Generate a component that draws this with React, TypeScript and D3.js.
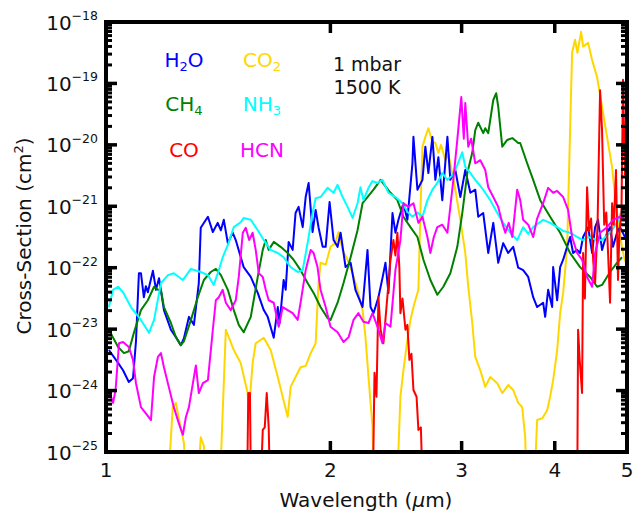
import React from "react";
import * as d3 from "d3";

// [wavelength (um), log10 cross-section (cm^2)]
const h2o: [number, number][] = [
  [1.009, -23.34], [1.038, -23.55], [1.054, -23.67], [1.073, -23.86], [1.087, -23.8], [1.097, -23.2],
  [1.107, -22.09], [1.114, -22.09], [1.124, -22.48], [1.131, -22.3], [1.138, -22.4], [1.156, -22.05],
  [1.167, -22.36], [1.178, -22.17], [1.196, -22.69], [1.222, -23.01], [1.241, -23.13], [1.26, -23.26],
  [1.272, -23.15], [1.292, -22.8], [1.312, -22.93], [1.332, -22.25], [1.34, -21.35], [1.37, -21.17],
  [1.391, -21.42], [1.412, -21.27], [1.426, -21.39], [1.439, -21.22], [1.457, -21.6], [1.479, -21.43],
  [1.493, -21.55], [1.53, -21.99], [1.564, -22.15], [1.598, -22.41], [1.628, -22.69], [1.648, -22.8],
  [1.679, -23.14], [1.7, -22.64], [1.71, -22.9], [1.731, -22.2], [1.742, -22.36], [1.758, -21.58],
  [1.78, -21.71], [1.796, -21.11], [1.813, -21.01], [1.836, -21.34], [1.853, -20.85], [1.87, -20.62],
  [1.893, -21.42], [1.911, -21.06], [1.928, -21.34], [1.953, -21.66], [1.971, -21.66], [1.995, -20.93],
  [2.02, -21.55], [2.045, -21.66], [2.064, -21.43], [2.096, -21.99], [2.129, -21.92], [2.161, -22.36],
  [2.181, -22.48], [2.209, -22.64], [2.243, -21.71], [2.264, -22.64], [2.285, -22.74], [2.32, -22.48],
  [2.349, -22.17], [2.371, -21.92], [2.393, -22.41], [2.423, -21.11], [2.445, -21.43], [2.468, -21.22],
  [2.506, -20.95], [2.537, -21.22], [2.577, -20.3], [2.585, -19.87], [2.617, -20.73], [2.658, -20.57],
  [2.682, -20.03], [2.707, -20.46], [2.741, -19.87], [2.766, -20.57], [2.792, -20.2], [2.826, -20.9],
  [2.871, -19.87], [2.897, -20.57], [2.942, -20.41], [2.988, -20.85], [3.034, -20.41], [3.082, -20.78],
  [3.129, -20.73], [3.158, -21.17], [3.207, -21.11], [3.257, -21.76], [3.308, -21.27], [3.359, -21.92],
  [3.411, -21.6], [3.464, -21.76], [3.518, -21.66], [3.573, -22.0], [3.628, -22.04], [3.685, -22.15],
  [3.742, -22.48], [3.788, -22.64], [3.859, -22.57], [3.883, -22.8], [3.919, -22.36], [3.968, -22.64],
  [3.98, -21.99], [4.03, -22.53], [4.067, -21.99], [4.105, -21.87], [4.156, -21.66], [4.194, -21.5],
  [4.233, -21.76], [4.286, -21.71], [4.325, -21.76], [4.366, -21.5], [4.434, -21.34], [4.489, -21.76],
  [4.531, -21.34], [4.572, -21.22], [4.629, -21.71], [4.701, -21.43], [4.745, -21.34], [4.789, -21.66],
  [4.848, -21.43], [4.893, -21.34], [4.969, -21.5],
];

const nh3: [number, number][] = [
  [1.009, -22.64], [1.022, -22.36], [1.038, -22.31], [1.054, -22.4], [1.08, -22.64], [1.114, -22.85],
  [1.142, -23.06], [1.16, -22.85], [1.185, -22.25], [1.211, -22.12], [1.233, -22.09], [1.268, -22.2],
  [1.3, -22.02], [1.34, -22.07], [1.37, -22.12], [1.395, -22.28], [1.417, -22.04], [1.434, -21.83],
  [1.457, -21.63], [1.484, -21.34], [1.516, -21.26], [1.53, -21.19], [1.564, -21.22], [1.598, -21.39],
  [1.628, -21.55], [1.663, -21.71], [1.7, -21.76], [1.731, -21.83], [1.769, -21.99], [1.808, -22.07],
  [1.836, -22.04], [1.864, -21.6], [1.893, -21.11], [1.911, -20.87], [1.94, -20.85], [1.983, -20.7],
  [2.02, -20.78], [2.045, -20.65], [2.077, -20.85], [2.109, -21.01], [2.142, -21.19], [2.175, -20.95],
  [2.195, -20.69], [2.215, -20.9], [2.25, -20.7], [2.278, -20.59], [2.313, -20.62], [2.349, -20.57],
  [2.393, -20.78], [2.445, -20.85], [2.499, -20.95], [2.537, -21.09], [2.577, -21.17], [2.617, -21.1],
  [2.658, -21.17], [2.699, -20.9], [2.741, -20.73], [2.783, -20.62], [2.826, -20.46], [2.871, -20.57],
  [2.915, -20.5], [2.96, -20.33], [3.006, -20.12], [3.034, -20.36], [3.082, -20.46], [3.129, -20.57],
  [3.207, -20.73], [3.277, -20.9], [3.349, -21.11], [3.411, -21.27], [3.486, -21.43], [3.562, -21.55],
  [3.628, -21.34], [3.685, -21.45], [3.742, -21.34], [3.859, -21.22], [3.943, -21.27], [4.03, -21.34],
  [4.105, -21.4], [4.194, -21.43], [4.286, -21.5], [4.366, -21.55], [4.434, -21.5], [4.559, -21.55],
  [4.629, -21.55], [4.745, -21.43], [4.848, -21.27], [4.923, -21.06], [4.969, -21.1],
];

const ch4: [number, number][] = [
  [1.009, -23.01], [1.038, -23.29], [1.057, -23.39], [1.073, -23.36], [1.09, -23.06], [1.114, -22.69],
  [1.138, -22.53], [1.16, -22.31], [1.174, -22.36], [1.185, -22.36], [1.196, -22.64], [1.222, -22.9],
  [1.241, -23.13], [1.26, -23.26], [1.272, -23.2], [1.3, -22.85], [1.328, -22.48], [1.353, -22.2],
  [1.382, -22.07], [1.404, -22.02], [1.426, -22.12], [1.457, -22.36], [1.484, -22.69], [1.507, -22.93],
  [1.53, -23.05], [1.564, -22.8], [1.598, -22.15], [1.623, -21.71], [1.638, -21.55], [1.653, -21.71],
  [1.679, -21.58], [1.715, -21.66], [1.753, -21.76], [1.785, -21.87], [1.824, -22.04], [1.864, -22.25],
  [1.899, -22.41], [1.94, -22.64], [1.983, -22.82], [2.001, -22.85], [2.045, -22.57], [2.083, -22.25],
  [2.129, -21.83], [2.175, -21.39], [2.209, -20.95], [2.243, -20.85], [2.285, -20.73], [2.32, -20.62],
  [2.335, -20.57], [2.408, -20.78], [2.46, -20.9], [2.506, -21.17], [2.561, -21.34], [2.617, -21.5],
  [2.666, -21.87], [2.724, -22.2], [2.783, -22.44], [2.835, -22.31], [2.897, -22.09], [2.96, -21.66],
  [3.006, -21.11], [3.053, -20.46], [3.1, -20.13], [3.129, -19.76], [3.158, -19.64], [3.207, -19.81],
  [3.227, -19.73], [3.257, -19.81], [3.308, -19.27], [3.338, -19.16], [3.359, -19.38], [3.401, -20.03],
  [3.454, -19.92], [3.508, -19.89], [3.573, -19.97], [3.595, -19.97], [3.673, -20.3], [3.742, -20.57],
  [3.824, -20.9], [3.943, -21.17], [4.067, -21.43], [4.156, -21.66], [4.194, -21.76], [4.325, -21.99],
  [4.461, -22.15], [4.559, -22.31], [4.629, -22.28], [4.745, -22.07], [4.848, -21.92], [4.923, -21.83],
];

const hcn: [number, number][] = [
  [1.009, -23.99], [1.022, -24.2], [1.03, -23.99], [1.041, -23.23], [1.054, -23.21], [1.073, -23.29],
  [1.087, -23.5], [1.097, -23.88], [1.114, -24.27], [1.131, -24.37], [1.149, -24.48], [1.16, -23.78],
  [1.174, -23.45], [1.185, -23.39], [1.196, -23.62], [1.214, -23.94], [1.233, -24.27], [1.252, -24.53],
  [1.268, -24.72], [1.28, -24.43], [1.292, -24.27], [1.308, -23.88], [1.32, -23.59], [1.332, -24.04],
  [1.349, -23.88], [1.37, -23.83], [1.391, -23.01], [1.404, -22.53], [1.417, -22.48], [1.434, -22.36],
  [1.448, -22.57], [1.47, -22.69], [1.493, -22.53], [1.507, -22.15], [1.526, -21.43], [1.54, -21.35],
  [1.556, -21.55], [1.573, -21.43], [1.588, -21.71], [1.603, -22.09], [1.623, -22.15], [1.638, -22.36],
  [1.653, -22.53], [1.679, -22.57], [1.705, -22.96], [1.726, -22.64], [1.753, -22.69], [1.78, -22.74],
  [1.808, -22.85], [1.824, -22.57], [1.853, -22.04], [1.882, -21.71], [1.899, -21.76], [1.922, -21.99],
  [1.94, -22.36], [1.971, -22.64], [2.001, -22.96], [2.045, -23.05], [2.083, -23.21], [2.116, -23.13],
  [2.148, -22.85], [2.181, -22.74], [2.215, -22.88], [2.25, -22.9], [2.278, -22.74], [2.313, -22.96],
  [2.349, -23.23], [2.371, -22.9], [2.408, -22.96], [2.445, -22.04], [2.483, -21.55], [2.506, -20.95],
  [2.545, -21.01], [2.585, -20.95], [2.625, -21.27], [2.658, -21.17], [2.699, -21.5], [2.724, -21.76],
  [2.753, -21.5], [2.783, -21.34], [2.826, -21.3], [2.871, -21.43], [2.897, -21.01], [2.924, -20.57],
  [2.96, -19.92], [2.997, -19.22], [3.02, -19.9], [3.034, -19.32], [3.062, -20.03], [3.09, -19.9],
  [3.129, -20.3], [3.178, -20.25], [3.227, -20.41], [3.257, -20.69], [3.308, -20.85], [3.359, -21.01],
  [3.401, -21.27], [3.433, -21.43], [3.47, -21.27], [3.508, -21.5], [3.562, -20.73], [3.595, -20.9],
  [3.628, -21.22], [3.685, -21.3], [3.742, -21.5], [3.788, -21.2], [3.859, -20.95], [3.919, -20.7],
  [3.98, -20.78], [4.03, -20.75], [4.105, -20.85], [4.168, -21.06], [4.22, -21.5], [4.286, -21.76],
  [4.352, -21.87], [4.42, -22.15], [4.489, -22.31], [4.531, -21.76], [4.601, -21.43], [4.701, -21.34],
  [4.789, -21.22], [4.893, -21.17], [4.969, -21.2],
];

const co2: [number, number][] = [
  [1.205, -26], [1.229, -24.27], [1.241, -24.2], [1.252, -24.45], [1.272, -24.85], [1.288, -26],
  [1.32, -26], [1.34, -24.76], [1.353, -24.9], [1.37, -26], [1.417, -26], [1.448, -23.01],
  [1.484, -23.34], [1.516, -23.55], [1.549, -24.04], [1.554, -24.37], [1.573, -23.55], [1.588, -23.23],
  [1.628, -23.14], [1.663, -23.34], [1.7, -23.78], [1.726, -24.1], [1.753, -24.43], [1.769, -23.94],
  [1.796, -23.78], [1.824, -23.62], [1.853, -23.6], [1.882, -23.39], [1.911, -23.23], [1.928, -22.25],
  [1.94, -21.92], [1.971, -21.95], [2.001, -21.66], [2.03, -21.6], [2.051, -21.42], [2.077, -21.71],
  [2.109, -21.87], [2.142, -22.09], [2.175, -22.36], [2.209, -22.69], [2.229, -23.13], [2.25, -23.78],
  [2.278, -24.59], [2.29, -26], [2.45, -26], [2.483, -24.1], [2.506, -23.67], [2.537, -23.18],
  [2.561, -22.85], [2.59, -22.6], [2.625, -22.36], [2.641, -21.11], [2.658, -20.03], [2.682, -19.87],
  [2.707, -19.73], [2.741, -19.95], [2.766, -19.97], [2.792, -20.13], [2.815, -20.0], [2.853, -20.25],
  [2.88, -20.15], [2.915, -20.46], [2.942, -20.73], [2.988, -21.22], [3.034, -21.76], [3.062, -22.31],
  [3.1, -22.9], [3.129, -23.45], [3.178, -23.67], [3.227, -23.94], [3.277, -23.78], [3.349, -23.88],
  [3.401, -24.04], [3.464, -23.91], [3.518, -23.99], [3.573, -24.2], [3.617, -24.27], [3.651, -24.76],
  [3.673, -26], [3.742, -26], [3.788, -24.48], [3.85, -24.45], [3.907, -24.32], [3.943, -24.1],
  [3.98, -23.83], [4.03, -23.34], [4.067, -22.74], [4.105, -22.41], [4.156, -21.66], [4.181, -20.41],
  [4.22, -18.5], [4.259, -18.29], [4.29, -18.5], [4.339, -18.16], [4.366, -18.4], [4.434, -18.34],
  [4.489, -18.62], [4.559, -18.9], [4.629, -19.38], [4.701, -19.87], [4.775, -20.36], [4.819, -20.85],
  [4.863, -21.22], [4.923, -21.66], [4.969, -21.9],
];

const co: [number, number][] = [
  [1.545, -26], [1.552, -24.04], [1.556, -24.3], [1.56, -24.04], [1.566, -26],
  [1.608, -26], [1.623, -24.64], [1.633, -24.6], [1.643, -24.04], [1.653, -24.6], [1.663, -26],
  [2.278, -26], [2.292, -23.71], [2.306, -24.1], [2.32, -22.48], [2.335, -23.0], [2.356, -23.23],
  [2.38, -22.6], [2.408, -21.87], [2.43, -21.55], [2.445, -21.8], [2.46, -21.43], [2.475, -22.0],
  [2.483, -22.74], [2.499, -22.5], [2.522, -23.01], [2.537, -22.93], [2.553, -23.5], [2.569, -23.4],
  [2.585, -23.99], [2.61, -24.1], [2.625, -24.64], [2.645, -24.6], [2.666, -26],
  [4.286, -26], [4.299, -23.01], [4.32, -23.5], [4.352, -24.04], [4.366, -21.76], [4.39, -22.5],
  [4.42, -20.69], [4.447, -21.4], [4.475, -21.2], [4.505, -21.9], [4.531, -22.25], [4.565, -21.3],
  [4.601, -19.11], [4.629, -19.76], [4.66, -21.3], [4.69, -21.1], [4.716, -21.76], [4.745, -22.57],
  [4.775, -20.95], [4.8, -21.3], [4.833, -20.41], [4.863, -22.2], [4.885, -21.4], [4.915, -21.1],
  [4.939, -18.94], [4.969, -20.5],
];

const xTicks = [1, 2, 3, 4, 5];
const yExponents = [-25, -24, -23, -22, -21, -20, -19, -18];

const series = [
  { name: "CO2", data: co2, color: "#ffd700" },
  { name: "H2O", data: h2o, color: "#0000ff" },
  { name: "CH4", data: ch4, color: "#008000" },
  { name: "NH3", data: nh3, color: "#00ffff" },
  { name: "CO", data: co, color: "#ff0000" },
  { name: "HCN", data: hcn, color: "#ff00ff" },
];

const W = 643;
const H = 513;
const left = 106, right = 627, top = 22, bottom = 452;
const font = "'DejaVu Sans', sans-serif";

export default function App() {
  const x = d3.scaleLog().domain([1, 5]).range([left, right]);
  const y = d3.scaleLog().domain([1e-25, 1e-18]).range([bottom, top]);
  const line = d3
    .line<[number, number]>()
    .x((d) => x(d[0]))
    .y((d) => y(Math.pow(10, d[1])));

  // minor ticks 2..9 per decade
  const minor: number[] = [];
  yExponents.slice(0, -1).forEach((e) => {
    for (let k = 2; k <= 9; k++) minor.push(k * Math.pow(10, e));
  });

  const legend = [
    { main: "H", sub: "2", rest: "O", color: "#0000ff", cx: 184, by: 67 },
    { main: "CO", sub: "2", rest: "", color: "#ffd700", cx: 262, by: 67 },
    { main: "CH", sub: "4", rest: "", color: "#008000", cx: 184, by: 111 },
    { main: "NH", sub: "3", rest: "", color: "#00ffff", cx: 262, by: 111 },
    { main: "CO", sub: "", rest: "", color: "#ff0000", cx: 184, by: 157 },
    { main: "HCN", sub: "", rest: "", color: "#ff00ff", cx: 262, by: 157 },
  ];

  return (
    <svg width={W} height={H} style={{ display: "block", position: "absolute", left: 0, top: 0 }} fontFamily={font}>
      <rect width={W} height={H} fill="#fff" />
      <defs>
        <clipPath id="plot">
          <rect x={left} y={top} width={right - left} height={bottom - top} />
        </clipPath>
      </defs>

      <g clipPath="url(#plot)">
        {series.map((s) => (
          <path key={s.name} d={line(s.data) || ""} fill="none" stroke={s.color} strokeWidth={2} strokeLinejoin="round" />
        ))}
      </g>

      {/* y ticks, both sides */}
      {yExponents.map((e) => {
        const yy = y(Math.pow(10, e));
        return (
          <g key={e}>
            <line x1={left} x2={left + 11} y1={yy} y2={yy} stroke="#000" strokeWidth={3.5} />
            <line x1={right} x2={right - 11} y1={yy} y2={yy} stroke="#000" strokeWidth={3.5} />
            <text x={98} y={yy + 7.5} fontSize={20} textAnchor="end" fill="#111">
              10<tspan fontSize={12.5} dy={-9.5}>{"\u2212" + Math.abs(e)}</tspan>
            </text>
          </g>
        );
      })}
      {minor.map((v, i) => (
        <g key={i}>
          <line x1={left} x2={left + 6} y1={y(v)} y2={y(v)} stroke="#000" strokeWidth={3} />
          <line x1={right} x2={right - 6} y1={y(v)} y2={y(v)} stroke="#000" strokeWidth={3} />
        </g>
      ))}

      {/* x ticks */}
      {xTicks.map((t) => (
        <g key={t}>
          <line x1={x(t)} x2={x(t)} y1={bottom} y2={bottom - 11} stroke="#000" strokeWidth={3.5} />
          <line x1={x(t)} x2={x(t)} y1={top} y2={top + 11} stroke="#000" strokeWidth={3.5} />
          <text x={x(t)} y={477} fontSize={20} textAnchor="middle" fill="#111">
            {t}
          </text>
        </g>
      ))}

      <rect x={left} y={top} width={right - left} height={bottom - top} fill="none" stroke="#000" strokeWidth={4} />

      {legend.map((l) => (
        <text key={l.main + l.sub + l.color} x={l.cx} y={l.by} fontSize={20} textAnchor="middle" fill={l.color}>
          {l.main}
          {l.sub && (
            <tspan fontSize={13} dy={4}>
              {l.sub}
            </tspan>
          )}
          {l.rest && <tspan dy={-4}>{l.rest}</tspan>}
        </text>
      ))}

      <text x={367} y={71} fontSize={19} textAnchor="middle" fill="#111">
        1 mbar
      </text>
      <text x={367} y={94} fontSize={19} textAnchor="middle" fill="#111">
        1500 K
      </text>

      <text x={366} y={507} fontSize={20} textAnchor="middle" fill="#111">
        Wavelength (<tspan fontStyle="italic">μ</tspan>m)
      </text>
      <text transform="translate(31,236) rotate(-90)" fontSize={20} textAnchor="middle" fill="#111">
        Cross-Section (cm<tspan fontSize={13} dy={-8}>2</tspan>
        <tspan dy={8}>)</tspan>
      </text>
    </svg>
  );
}
